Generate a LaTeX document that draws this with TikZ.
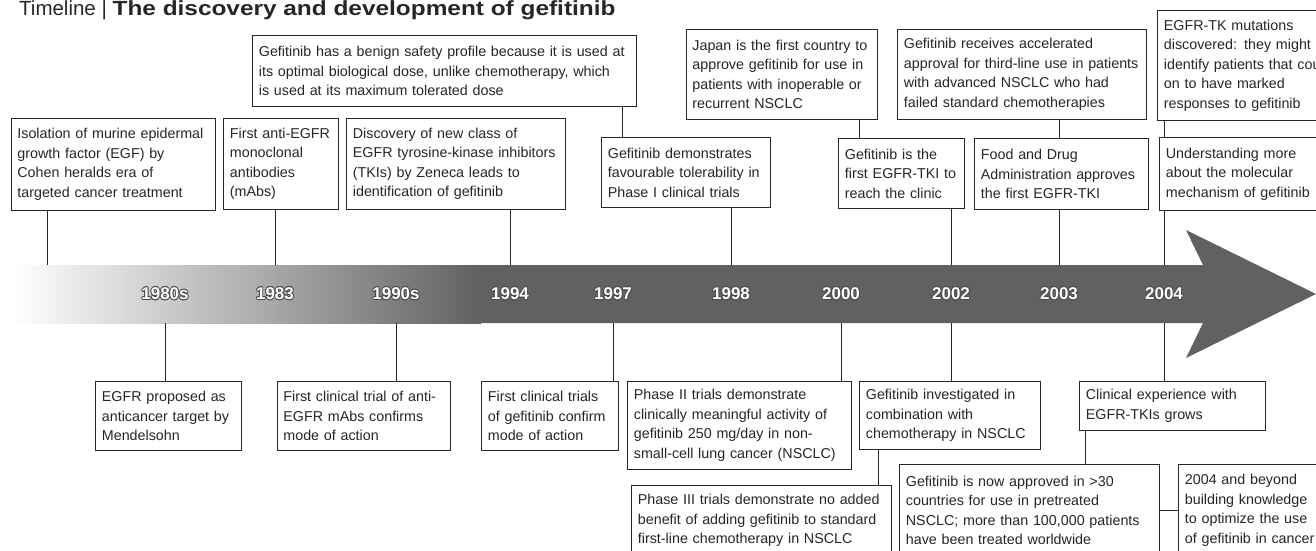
\documentclass[tikz,border=0pt]{standalone}
\usepackage{fontspec}
\usepackage{contour}
\setmainfont{Liberation Sans}
\definecolor{bandgray}{gray}{0.38}
\contourlength{0.7pt}

\begin{document}
\begin{tikzpicture}[
  x=1pt, y=-1pt,
  box/.style={draw=black!85, line width=0.8pt, fill=white, anchor=north west, align=left,
    inner xsep=6.5pt, inner ysep=0pt, text=black!85, font=\fontsize{14.3}{19.5}\selectfont},
  year/.style={text=white, font=\bfseries\fontsize{17}{17}\selectfont},
  link/.style={draw=black!85, line width=0.8pt}
]
\useasboundingbox (0,0) rectangle (1316,551);

% title
\node[anchor=base west, inner sep=0pt, text=black!85, font=\fontsize{20.5}{20.5}\selectfont] (title) at (19,15.5)
  {Timeline | \scalebox{1.19}[1]{\bfseries The discovery and development of gefitinib}};

% the time arrow
\coordinate (bandtop) at (0,265);
\coordinate (bandbot) at (0,323);
\shade[left color=white, right color=bandgray] (13,265) rectangle (481,323);
\fill[bandgray] (480,265) -- (1203,265) -- (1186,230) -- (1316,294) -- (1186,358) -- (1203,323) -- (480,323) -- cycle;

\foreach \yr/\xx in {1980s/165, 1983/275, 1990s/396, 1994/510, 1997/613, 1998/731, 2000/841, 2002/951, 2003/1059, 2004/1164}
  \node[year] (y\yr) at (\xx,294) {\contour{black!70}{\yr}};

% upper events
\node[box, text width=371pt, minimum height=71pt] (benign) at (252,35) {Gefitinib has a benign safety profile because it is used at\\its optimal biological dose, unlike chemotherapy, which\\is used at its maximum tolerated dose};
\node[box, text width=178.5pt, minimum height=90pt] (japan) at (685.5,29) {Japan is the first country to\\approve gefitinib for use in\\patients with inoperable or\\recurrent NSCLC};
\node[box, text width=236pt, minimum height=90pt] (accel) at (897,29) {Gefitinib receives accelerated\\approval for third-line use in patients\\with advanced NSCLC who had\\failed standard chemotherapies};
\node[box, text width=190pt, minimum height=110pt] (mutat) at (1157,10) {EGFR-TK mutations\\discovered: they might\\identify patients that could go\\on to have marked\\responses to gefitinib};

\node[box, text width=191.5pt, minimum height=92pt] (isol) at (10.5,118) {Isolation of murine epidermal\\growth factor (EGF) by\\Cohen heralds era of\\targeted cancer treatment};
\node[box, text width=102pt, minimum height=91pt] (anti) at (223,118) {First anti-EGFR\\monoclonal\\antibodies\\(mAbs)};
\node[box, text width=206pt, minimum height=91pt] (discov) at (346,118) {Discovery of new class of\\EGFR tyrosine-kinase inhibitors\\(TKIs) by Zeneca leads to\\identification of gefitinib};
\node[box, text width=156pt, minimum height=70pt] (demo) at (601,137) {Gefitinib demonstrates\\favourable tolerability in\\Phase I clinical trials};
\node[box, text width=113pt, minimum height=70pt] (firsttki) at (838,138) {Gefitinib is the\\first EGFR-TKI to\\reach the clinic};
\node[box, text width=161pt, minimum height=71pt] (fda) at (974,138) {Food and Drug\\Administration approves\\the first EGFR-TKI};
\node[box, text width=160pt, minimum height=73pt] (underst) at (1159,137) {Understanding more\\about the molecular\\mechanism of gefitinib};

% lower events
\node[box, text width=133pt, minimum height=69pt] (proposed) at (95,381) {EGFR proposed as\\anticancer target by\\Mendelsohn};
\node[box, text width=160.5pt, minimum height=69pt] (trialmab) at (276.5,381) {First clinical trial of anti-\\EGFR mAbs confirms\\mode of action};
\node[box, text width=124pt, minimum height=69pt] (trialgef) at (481,381) {First clinical trials\\of gefitinib confirm\\mode of action};
\node[box, text width=211pt, minimum height=88pt] (phase2) at (627,381) {Phase II trials demonstrate\\clinically meaningful activity of\\gefitinib 250 mg/day in non-\\small-cell lung cancer (NSCLC)};
\node[box, text width=168pt, minimum height=68pt] (invest) at (859,381) {Gefitinib investigated in\\combination with\\chemotherapy in NSCLC};
\node[box, text width=173pt, minimum height=49pt] (clinexp) at (1079,381) {Clinical experience with\\EGFR-TKIs grows};
\node[box, text width=247pt, minimum height=70pt] (phase3) at (631,485) {Phase III trials demonstrate no added\\benefit of adding gefitinib to standard\\first-line chemotherapy in NSCLC};
\node[box, text width=247pt, minimum height=92pt] (approved) at (899,464) {Gefitinib is now approved in >30\\countries for use in pretreated\\NSCLC; more than 100,000 patients\\have been treated worldwide};
\node[box, text width=150pt, minimum height=92pt] (beyond) at (1178,464) {2004 and beyond\\building knowledge\\to optimize the use\\of gefitinib in cancer};

% helper x positions for box-to-box links
\coordinate (k62) at (47.5,265);
\coordinate (kbd) at (622,0);
\coordinate (kjf) at (859,0);
\coordinate (kip) at (878,0);
\coordinate (kca) at (1085,0);

% connectors above the arrow
\draw[link] (isol.south -| k62) -- (k62);
\draw[link] (anti.south -| y1983) -- (y1983 |- bandtop);
\draw[link] (discov.south -| y1994) -- (y1994 |- bandtop);
\draw[link] (demo.south -| y1998) -- (y1998 |- bandtop);
\draw[link] (firsttki.south -| y2002) -- (y2002 |- bandtop);
\draw[link] (fda.south -| y2003) -- (y2003 |- bandtop);
\draw[link] (underst.south -| y2004) -- (y2004 |- bandtop);
\draw[link] (benign.south -| kbd) -- (demo.north -| kbd);
\draw[link] (japan.south -| kjf) -- (firsttki.north -| kjf);
\draw[link] (accel.south -| y2003) -- (fda.north -| y2003);
\draw[link] (mutat.south -| y2004) -- (underst.north -| y2004);

% connectors below the arrow
\draw[link] (y1980s |- bandbot) -- (proposed.north -| y1980s);
\draw[link] (y1990s |- bandbot) -- (trialmab.north -| y1990s);
\draw[link] (y1997 |- bandbot) -- (trialgef.north -| y1997);
\draw[link] (y2000 |- bandbot) -- (phase2.north -| y2000);
\draw[link] (y2002 |- bandbot) -- (invest.north -| y2002);
\draw[link] (y2004 |- bandbot) -- (clinexp.north -| y2004);
\draw[link] (invest.south -| kip) -- (phase3.north -| kip);
\draw[link] (clinexp.south -| kca) -- (approved.north -| kca);
\draw[link] (approved.east) -- (beyond.west);

\end{tikzpicture}
\end{document}
